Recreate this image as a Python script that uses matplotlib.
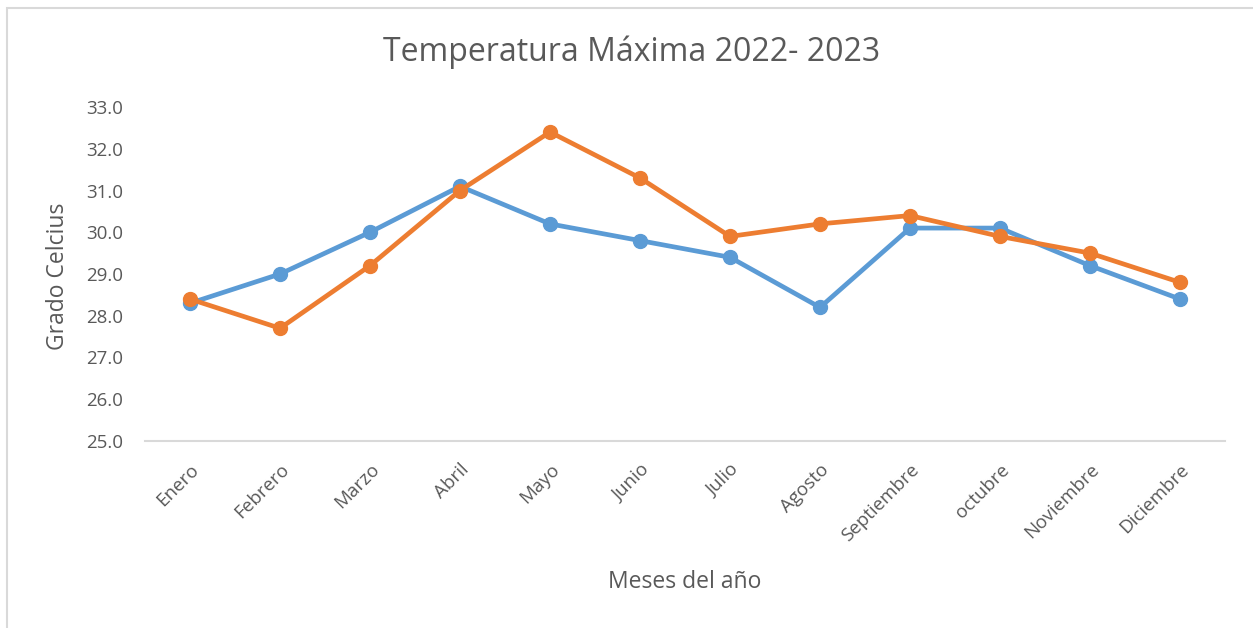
import matplotlib
matplotlib.use("Agg")
import matplotlib.pyplot as plt
from matplotlib.patches import Rectangle

meses = ["Enero", "Febrero", "Marzo", "Abril", "Mayo", "Junio", "Julio",
         "Agosto", "Septiembre", "octubre", "Noviembre", "Diciembre"]
temp_2022 = [28.3, 29.0, 30.0, 31.1, 30.2, 29.8, 29.4, 28.2, 30.1, 30.1, 29.2, 28.4]
temp_2023 = [28.4, 27.7, 29.2, 31.0, 32.4, 31.3, 29.9, 30.2, 30.4, 29.9, 29.5, 28.8]
y_ticks = [25.0, 26.0, 27.0, 28.0, 29.0, 30.0, 31.0, 32.0, 33.0]

plt.rcParams['font.family'] = ['Open Sans', 'DejaVu Sans']
W, H = 1253, 628
fig = plt.figure(figsize=(W / 100, H / 100), dpi=100)
fig.patches.append(Rectangle((7 / W, -0.01), 1.02, 1 - 8 / H + 0.01, transform=fig.transFigure,
                             fill=False, edgecolor="#D9D9D9", linewidth=1.5))

ax = fig.add_axes([145 / W, 1 - 441 / H, (1225 - 145) / W, (441 - 107) / H])
x = list(range(len(meses)))
ax.plot(x, temp_2022, color="#5B9BD5", linewidth=3.4, marker="o", markersize=10,
        solid_joinstyle="round", zorder=3)
ax.plot(x, temp_2023, color="#ED7D31", linewidth=3.4, marker="o", markersize=10,
        solid_joinstyle="round", zorder=4)

ax.set_xlim(-0.5, len(meses) - 0.5)
ax.set_ylim(25, 33)
ax.set_yticks(y_ticks)
ax.set_yticklabels([f"{v:.1f}" for v in y_ticks])
ax.set_xticks(x)
ax.set_xticklabels(meses, rotation=45, ha="right", va="top", rotation_mode="anchor")

for s in ["top", "right", "left"]:
    ax.spines[s].set_visible(False)
ax.spines["bottom"].set_color("#D9D9D9")
ax.spines["bottom"].set_linewidth(1.5)
ax.tick_params(axis="both", length=0, labelsize=13.5, labelcolor="#595959")
ax.tick_params(axis="y", pad=16)
ax.tick_params(axis="x", pad=14)

fig.text(632 / W, 1 - 52 / H, "Temperatura Máxima 2022- 2023", ha="center", va="center",
         fontsize=23, color="#595959")
fig.text(58 / W, 1 - 276 / H, "Grado Celcius", ha="center", va="center", rotation=90,
         fontsize=16.5, color="#595959")
fig.text(685 / W, 1 - 582 / H, "Meses del año", ha="center", va="center",
         fontsize=16.5, color="#595959")

fig.savefig("out.png", dpi=100)
